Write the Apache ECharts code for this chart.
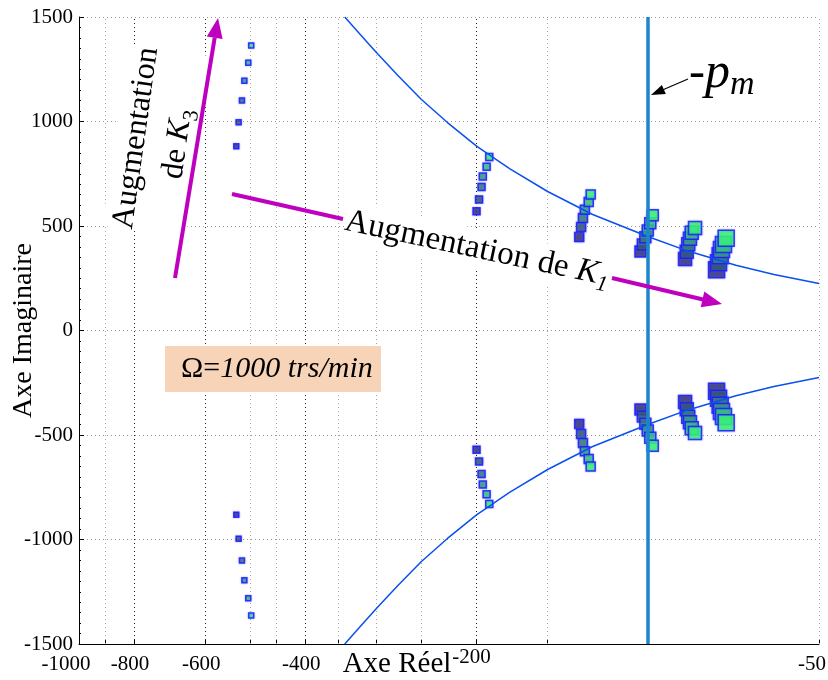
<!DOCTYPE html>
<html><head><meta charset="utf-8">
<script src="https://cdn.jsdelivr.net/npm/echarts@6/dist/echarts.min.js"></script>
<style>html,body{margin:0;padding:0;background:#fff}#c{width:828px;height:680px}</style>
</head><body><div id="c"></div>
<script>
const xTickLabels = [-1000, -800, -600, -400, -200, -50];
const xTickMarks = [-1000, -900, -800, -600, -500, -450, -400, -350, -300, -250, -200, -150, -100, -50];
const xGridMajor = [-800, -600, -400, -200];
const xGridMinor = [-900, -500, -450, -350, -300, -250, -150, -100, -50];
const yTicks = [-1500, -1000, -500, 0, 500, 1000, 1500];

// poles for 6 values of K1 (groups), 6 values of K3 inside each group (upper half; lower half = conjugate)
const g1Re = [-529, -524, -517, -512, -504, -498];
const g1Im = [881, 996, 1101, 1195, 1281, 1364];
const g2Re = [-200, -198, -196, -195, -192, -190];
const g2Im = [570, 627, 687, 737, 784, 830];
const g3Re = [-132, -131, -130, -129, -127, -126];
const g3Im = [447, 495, 538, 578, 615, 651];
const g4Re = [-103, -102, -101, -100, -99, -98];
const g4Im = [378, 412, 446, 479, 513, 551];
const g5Re = [-86, -85.4, -84.9, -84.3, -83.7, -82.6];
const g5Im = [342, 377, 413, 439, 468, 490];
const g6Re = [-75.7, -75.1, -74.6, -74.2, -73.6, -72.8];
const g6Im = [291, 324, 358, 387, 411, 441];

// constant-damping curve
const curveRe = [-341, -320, -300, -275, -250, -225, -200, -175, -150, -125, -100, -85, -70, -60, -50];
const curveIm = [1500, 1415, 1330, 1220, 1105, 995, 882, 775, 665, 555, 450, 380, 312, 268, 225];

const pmRe = -100;

// ---- styles ----
const palette = ['#303070', '#2e5868', '#2f7d6c', '#30a470', '#32cc70', '#33ff66'];
const groupSizes = [5, 7, 9, 11, 13, 16];
const FONT = '"Liberation Serif", "DejaVu Serif", serif';
const magenta = '#bf00bf';

const groups = [[g1Re, g1Im], [g2Re, g2Im], [g3Re, g3Im], [g4Re, g4Im], [g5Re, g5Im], [g6Re, g6Im]];

const chart = echarts.init(document.getElementById('c'), null, {renderer: 'canvas'});

const series = [];
series.push({
  type: 'line', data: [], z: 1, silent: true,
  markLine: {
    silent: true, symbol: ['none', 'none'], label: {show: false}, animation: false, z: 1,
    data: xGridMajor.map(v => ({xAxis: -v, lineStyle: {color: '#222', type: [1, 3], width: 1}}))
      .concat(xGridMinor.map(v => ({xAxis: -v, lineStyle: {color: '#aaa', type: [1, 3], width: 1}})))
  }
});

groups.forEach((g, gi) => {
  const re = g[0], im = g[1];
  const data = [];
  re.forEach((r, i) => data.push({value: [-r, im[i]], itemStyle: {color: palette[i]}}));
  re.forEach((r, i) => data.push({value: [-r, -im[i]], itemStyle: {color: palette[i]}}));
  series.push({
    type: 'scatter', symbol: 'rect', symbolSize: groupSizes[gi], data, z: 3,
    itemStyle: {borderColor: '#1414ff', borderWidth: 1.5, shadowColor: 'rgba(90,90,255,0.6)', shadowBlur: 2}
  });
});

series.push({
  type: 'line', symbol: 'none', z: 4, clip: true,
  data: curveRe.map((r, i) => [-r, curveIm[i]]),
  lineStyle: {color: '#0a50f0', width: 1.5}
});
series.push({
  type: 'line', symbol: 'none', z: 4, clip: true,
  data: curveRe.map((r, i) => [-r, -curveIm[i]]),
  lineStyle: {color: '#0a50f0', width: 1.5},
  markLine: {
    silent: true, symbol: ['none', 'none'], label: {show: false}, animation: false,
    data: [{xAxis: -pmRe}],
    lineStyle: {color: '#1c86cc', width: 3.5, type: 'solid'}
  }
});

const labelKey = {1000: 'a', 800: 'd', 600: 'd', 400: 'd', 200: 'b', 50: 'c'};
const lbl = {fontFamily: FONT, fontSize: 21, color: '#000'};

const option = {
  animation: false,
  backgroundColor: '#fff',
  textStyle: {fontFamily: FONT},
  grid: {left: 79, right: 9, top: 17, bottom: 36, containLabel: false, outerBoundsMode: 'none'},
  xAxis: {
    type: 'log', logBase: 10, min: 50, max: 1000, inverse: true,
    name: 'Axe Réel', nameLocation: 'middle', nameGap: 6, nameMoveOverlap: false,
    nameTextStyle: {fontFamily: FONT, fontSize: 29, color: '#000', padding: [0, 104, 0, 0]},
    axisLine: {show: true, onZero: false, lineStyle: {color: '#000', width: 1}},
    axisTick: {show: true, inside: true, length: 5, customValues: xTickMarks.map(v => -v), lineStyle: {color: '#000'}},
    axisLabel: {
      customValues: xTickLabels.map(v => -v), margin: 3, ...lbl,
      formatter: v => '{' + (labelKey[Math.round(v)] || 'd') + '|-' + Math.round(v) + '}',
      rich: {
        a: {...lbl, padding: [7, 26, 0, 0]},
        b: {...lbl, padding: [0, 10, 0, 0]},
        c: {...lbl, padding: [7, 14, 0, 0]},
        d: {...lbl, padding: [7, 8, 0, 0]}
      }
    },
    splitLine: {show: false}
  },
  yAxis: {
    type: 'value', min: -1500, max: 1500, interval: 500,
    name: 'Axe Imaginaire', nameLocation: 'middle', nameGap: 41, nameMoveOverlap: false,
    nameTextStyle: {fontFamily: FONT, fontSize: 28, color: '#000'},
    axisLine: {show: true, onZero: false, lineStyle: {color: '#000', width: 1}},
    axisTick: {show: true, inside: true, length: 5, lineStyle: {color: '#000'}},
    minorTick: {show: true, splitNumber: 10, length: 2, lineStyle: {color: '#000'}},
    axisLabel: {margin: 6, ...lbl, formatter: v => String(v)},
    splitLine: {show: true, lineStyle: {color: '#999', type: [1, 3], width: 1}}
  },
  series,
  graphic: [
    {type: 'rect', z: 10, shape: {x: 165, y: 346, width: 216, height: 46}, style: {fill: '#f7d4b7'}},
    {type: 'text', z: 11, x: 181, y: 369, style: {
      text: '{n|Ω=}{i|1000 trs/min}', align: 'left', verticalAlign: 'middle',
      rich: {n: {fontFamily: FONT, fontSize: 30, fill: '#000'}, i: {fontFamily: FONT, fontSize: 30, fontStyle: 'italic', fill: '#000'}}
    }},
    {type: 'text', z: 10, x: 157, y: 141, rotation: 1.431, style: {
      text: '{a|Augmentation}\n{a|de }{k|K}{s|3}', align: 'center', verticalAlign: 'middle',
      backgroundColor: '#fff',
      rich: {
        a: {fontFamily: FONT, fontSize: 32, lineHeight: 42, fill: '#000'},
        k: {fontFamily: FONT, fontSize: 32, lineHeight: 42, fontStyle: 'italic', fill: '#000'},
        s: {fontFamily: FONT, fontSize: 22, lineHeight: 22, verticalAlign: 'bottom', fill: '#000'}
      }
    }},
    {type: 'line', z: 12, shape: {x1: 175, y1: 278, x2: 214.7, y2: 37.7}, style: {stroke: magenta, lineWidth: 4}},
    {type: 'polygon', z: 12, shape: {points: [[218, 18], [222.6, 39.0], [206.8, 36.4]]}, style: {fill: magenta}},
    {type: 'text', z: 10, x: 477, y: 249, rotation: -0.209, style: {
      text: '{a|Augmentation de }{k|K}{s|1}', align: 'center', verticalAlign: 'middle',
      backgroundColor: '#fff',
      rich: {
        a: {fontFamily: FONT, fontSize: 33, lineHeight: 40, fill: '#000'},
        k: {fontFamily: FONT, fontSize: 33, lineHeight: 40, fontStyle: 'italic', fill: '#000'},
        s: {fontFamily: FONT, fontSize: 22, lineHeight: 22, fontStyle: 'italic', verticalAlign: 'bottom', fill: '#000'}
      }
    }},
    {type: 'line', z: 12, shape: {x1: 232, y1: 194, x2: 343, y2: 219}, style: {stroke: magenta, lineWidth: 4}},
    {type: 'line', z: 12, shape: {x1: 612, y1: 278, x2: 703, y2: 299.5}, style: {stroke: magenta, lineWidth: 4}},
    {type: 'polygon', z: 12, shape: {points: [[722, 304], [700.7, 307.2], [704.3, 291.6]]}, style: {fill: magenta}},
    {type: 'text', z: 12, x: 689, y: 74, style: {
      text: '{d|-}{p|p}{s|m}', align: 'left', verticalAlign: 'middle',
      rich: {
        d: {fontFamily: FONT, fontSize: 48, lineHeight: 56, fill: '#000'},
        p: {fontFamily: FONT, fontSize: 50, lineHeight: 56, fontStyle: 'italic', fill: '#000'},
        s: {fontFamily: FONT, fontSize: 34, lineHeight: 32, fontStyle: 'italic', verticalAlign: 'bottom', fill: '#000'}
      }
    }},
    {type: 'line', z: 12, shape: {x1: 688, y1: 79, x2: 663, y2: 89.8}, style: {stroke: '#000', lineWidth: 1.2}},
    {type: 'polygon', z: 12, shape: {points: [[651, 95], [665.8, 94.0], [661.9, 84.9]]}, style: {fill: '#000'}}
  ]
};
chart.setOption(option);
</script></body></html>
